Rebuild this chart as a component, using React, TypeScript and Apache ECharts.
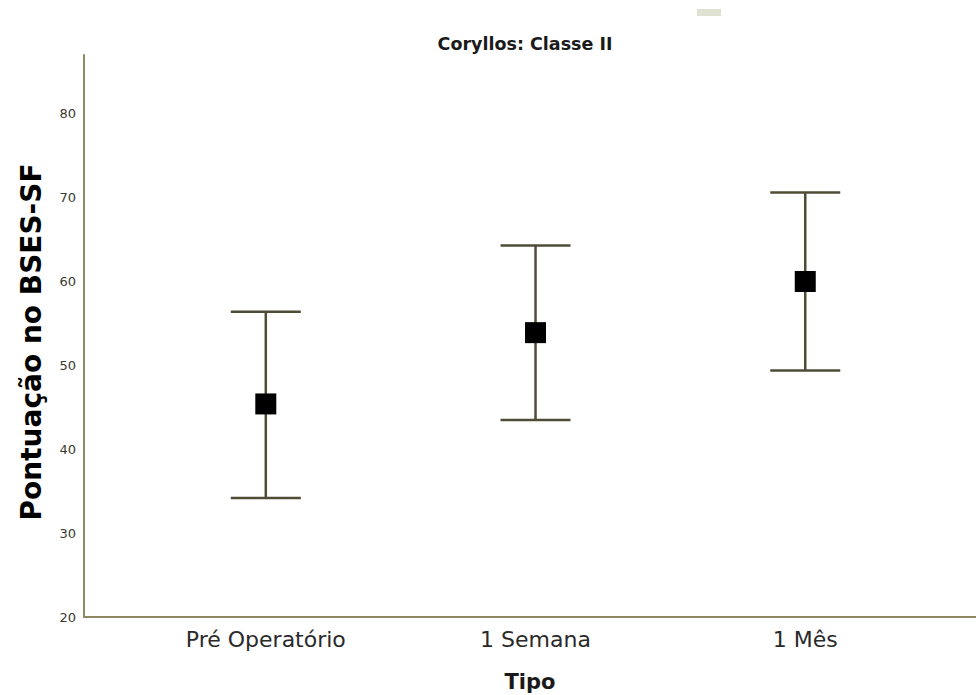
import React, { useEffect, useRef } from "react";
import * as echarts from "echarts";

const categories = ["Pré Operatório", "1 Semana", "1 Mês"];
const xPositions = [1, 2, 3];
const means = [45.4, 53.9, 60.0];
const lower = [34.2, 43.5, 49.4];
const upper = [56.4, 64.3, 70.6];
const yTicks = [20, 30, 40, 50, 60, 70, 80];

const titleText = "Coryllos: Classe II";
const yName = "Pontuação no BSES-SF";
const xName = "Tipo";

export default function App() {
  const ref = useRef<HTMLDivElement>(null);
  useEffect(() => {
    const chart = echarts.init(ref.current!, null, { renderer: "svg" });
    const barColor = "#4f4c36";
    const axisColor = "#8e8964";
    const font = "'DejaVu Sans', sans-serif";
    chart.setOption({
      animation: false,
      backgroundColor: "#ffffff",
      title: {
        text: titleText,
        left: 520,
        top: 30,
        textAlign: "center",
        textStyle: { fontFamily: font, fontSize: 17.5, fontWeight: "bold", color: "#1a1a1a" },
      },
      graphic: [
        { type: "rect", shape: { x: 697, y: 9, width: 24, height: 7 }, style: { fill: "#dfe2d3" } },
      ],
      grid: { left: 84, right: 0, top: 55, bottom: 78, outerBoundsMode: "none", containLabel: false },
      xAxis: {
        type: "value",
        min: 0.326,
        max: 3.633,
        name: xName,
        nameLocation: "middle",
        nameGap: 54,
        nameTextStyle: { fontFamily: font, fontSize: 21, fontWeight: "bold", color: "#1a1a1a" },
        axisLine: { show: true, onZero: false, lineStyle: { color: axisColor, width: 2 } },
        axisTick: { show: false },
        splitLine: { show: false },
        axisLabel: {
          customValues: xPositions,
          formatter: (v: number) => categories[Math.round(v) - 1] ?? "",
          fontFamily: font,
          fontSize: 22,
          color: "#2a2a2a",
          margin: 11,
        },
      },
      yAxis: {
        type: "value",
        min: 20,
        max: 87,
        name: yName,
        nameLocation: "middle",
        nameGap: 39,
        nameTextStyle: {
          fontFamily: font,
          fontSize: 28,
          fontWeight: "bold",
          color: "#000",
          padding: [0, 12, 0, 0],
        },
        axisLine: { show: true, lineStyle: { color: axisColor, width: 2 } },
        axisTick: { show: false },
        splitLine: { show: false },
        axisLabel: {
          customValues: yTicks,
          fontFamily: font,
          fontSize: 13,
          color: "#3a3a30",
          margin: 8,
        },
      },
      series: [
        {
          type: "custom",
          data: xPositions.map((x, i) => [x, lower[i], upper[i]]),
          renderItem: (params: any, api: any) => {
            const x = api.value(0);
            const lo = api.value(1);
            const hi = api.value(2);
            const pHi = api.coord([x, hi]);
            const pLo = api.coord([x, lo]);
            const hw = 35;
            const style = { stroke: barColor, lineWidth: 2.5 };
            return {
              type: "group",
              children: [
                { type: "line", shape: { x1: pHi[0], y1: pHi[1], x2: pLo[0], y2: pLo[1] }, style },
                { type: "line", shape: { x1: pHi[0] - hw, y1: pHi[1], x2: pHi[0] + hw, y2: pHi[1] }, style },
                { type: "line", shape: { x1: pLo[0] - hw, y1: pLo[1], x2: pLo[0] + hw, y2: pLo[1] }, style },
              ],
            };
          },
          z: 2,
        },
        {
          type: "scatter",
          data: xPositions.map((x, i) => [x, means[i]]),
          symbol: "rect",
          symbolSize: 21,
          itemStyle: { color: "#000000", opacity: 1 },
          emphasis: { disabled: true },
          z: 3,
        },
      ],
    });
    return () => chart.dispose();
  }, []);
  return (
    <div
      ref={ref}
      style={{ position: "fixed", left: 0, top: 0, width: 976, height: 695, background: "#fff" }}
    />
  );
}
